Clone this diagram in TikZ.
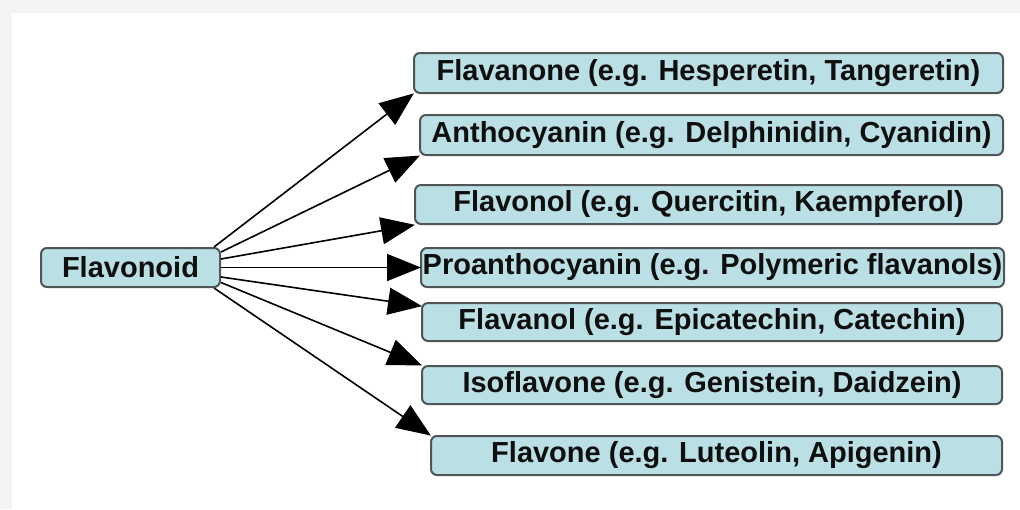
\documentclass[tikz,border=0pt]{standalone}
\usepackage{fontspec}
\setmainfont{Liberation Sans}
\usetikzlibrary{arrows.meta}
\definecolor{boxfill}{RGB}{186,223,228}
\definecolor{boxline}{RGB}{80,86,88}
\definecolor{txt}{RGB}{15,15,15}
\definecolor{frame}{RGB}{243,243,243}
\tikzset{
  item/.style={draw=boxline, line width=2pt, fill=boxfill, rounded corners=6pt,
    inner sep=0pt, text=txt, font=\bfseries\fontsize{29}{31}\selectfont},
  link/.style={line width=1.6pt, draw=black,
    -{Triangle[length=34pt,width=27pt]}, shorten >=-1pt},
}
\begin{document}
\begin{tikzpicture}[x=1pt,y=-1pt]
  % page frame: pale strip along top and left
  \fill[frame] (0,0) rectangle (1020,509);
  \fill[white] (12,13) rectangle (1020,509);
  \useasboundingbox (0,0) rectangle (1020,509);

  \node[item, minimum width=179pt, minimum height=39pt] (fl) at (130.5,267.5) {Flavonoid};

  \node[item, minimum width=589pt, minimum height=40pt] (b1) at (708.5,73)   {Flavanone (e.g. Hesperetin, Tangeretin)};
  \node[item, minimum width=583pt, minimum height=40pt] (b2) at (711.5,135)  {Anthocyanin (e.g. Delphinidin, Cyanidin)};
  \node[item, minimum width=587pt, minimum height=39pt] (b3) at (708.5,204.5){Flavonol (e.g. Quercitin, Kaempferol)};
  \node[item, minimum width=583pt, minimum height=39pt] (b4) at (712.5,267.5){Proanthocyanin (e.g. Polymeric flavanols)};
  \node[item, minimum width=580pt, minimum height=38pt] (b5) at (712,322)    {Flavanol (e.g. Epicatechin, Catechin)};
  \node[item, minimum width=580pt, minimum height=38pt] (b6) at (712,385)    {Isoflavone (e.g. Genistein, Daidzein)};
  \node[item, minimum width=571pt, minimum height=39pt] (b7) at (716.5,455.5){Flavone (e.g. Luteolin, Apigenin)};

  \draw[link] ([xshift=-7pt]fl.north east) -- (b1.south west);
  \draw[link] ([yshift=15.5pt]fl.east) -- (b2.south west);
  \draw[link] ([yshift=8.5pt]fl.east) -- (b3.south west);
  \draw[link] (fl.east) -- (b4.west);
  \draw[link] ([yshift=-9.5pt]fl.east) -- ([yshift=-4pt]b5.north west);
  \draw[link] ([yshift=-15pt]fl.east) -- (b6.north west);
  \draw[link] ([xshift=-7pt]fl.south east) -- (b7.north west);
\end{tikzpicture}
\end{document}
